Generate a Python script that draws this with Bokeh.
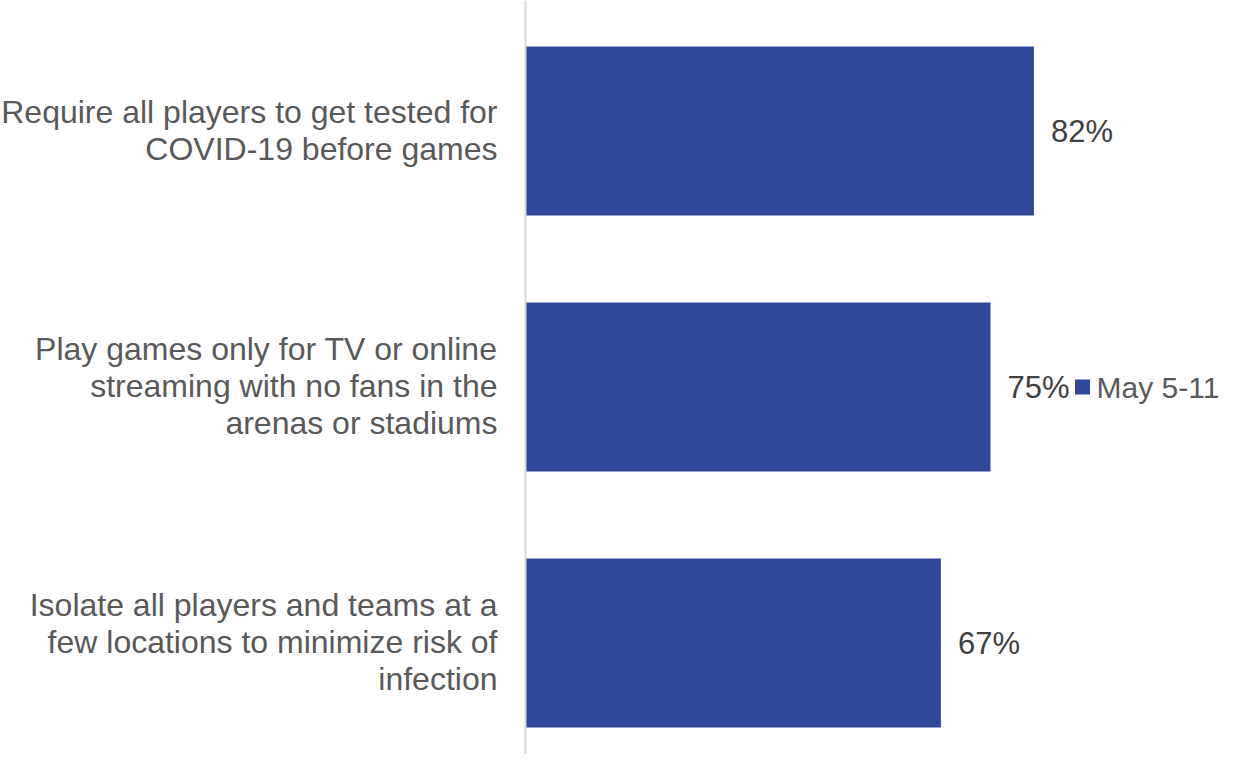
from bokeh.plotting import figure
from bokeh.models import Range1d, Span, ColumnDataSource
from bokeh.core.properties import value
from bokeh.embed import file_html
from bokeh.resources import INLINE

categories = [
    ["Require all players to get tested for", "COVID-19 before games"],
    ["Play games only for TV or online", "streaming with no fans in the", "arenas or stadiums"],
    ["Isolate all players and teams at a", "few locations to minimize risk of", "infection"],
]
values = [82, 75, 67]
value_labels = ["82%", "75%", "67%"]
series_name = "May 5-11"

BAR = "#2F4699"
FONT = "Liberation Sans"
W, H = 1222, 754
AXIS_PX = 525
PX_PER_UNIT = 6.2
TOP_CENTER = 130.5
STEP = 256.0

p = figure(width=W, height=H, output_backend="svg", toolbar_location=None,
           x_range=Range1d(-AXIS_PX / PX_PER_UNIT, (W - AXIS_PX) / PX_PER_UNIT),
           y_range=Range1d((H - TOP_CENTER) / STEP, -TOP_CENTER / STEP),
           min_border_left=0, min_border_right=0, min_border_top=0, min_border_bottom=0)
p.xaxis.visible = False
p.yaxis.visible = False
p.xgrid.visible = False
p.ygrid.visible = False
p.outline_line_color = None
p.background_fill_color = "white"
p.border_fill_color = "white"

idx = list(range(len(values)))
src = ColumnDataSource(dict(y=idx, right=values, lab=value_labels))
p.hbar(y="y", left=0, right="right", height=0.66, source=src,
       fill_color=BAR, line_color=None)

p.text(x="right", y="y", text="lab", source=src, x_offset=17,
       text_align="left", text_baseline="middle",
       text_font=value(FONT), text_font_size="31px", text_color="#404040")

p.add_layout(Span(location=0, dimension="height", line_color="#d9d9d9", line_width=2))

# category labels
LINE = 37
cx, cy, ct, co = [], [], [], []
for i, lines in enumerate(categories):
    n = len(lines)
    for j, t in enumerate(lines):
        cx.append(0)
        cy.append(i)
        ct.append(t)
        co.append((j - (n - 1) / 2) * LINE - 1)
csrc = ColumnDataSource(dict(x=cx, y=cy, text=ct, yo=co))
p.text(x="x", y="y", text="text", y_offset="yo", source=csrc, x_offset=-28,
       text_align="right", text_baseline="middle",
       text_font=value(FONT), text_font_size="32px", text_color="#595959")

# legend (manual)
leg_x = (1082 - AXIS_PX) / PX_PER_UNIT
p.scatter(x=[leg_x], y=[1], marker="square", size=15, fill_color=BAR, line_color=None)
p.text(x=[leg_x], y=[1], text=[series_name], x_offset=14, text_align="left",
       text_baseline="middle", text_font=value(FONT), text_font_size="30px",
       text_color="#595959")

open("out.html", "w").write(file_html(p, INLINE))
